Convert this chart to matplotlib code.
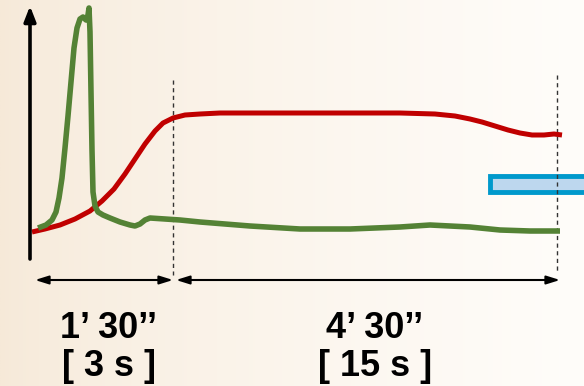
import numpy as np
import matplotlib
matplotlib.use("Agg")
import matplotlib.pyplot as plt
from matplotlib.patches import Rectangle

# time axis (arbitrary units, 0 = vertical axis) and signal levels
green_t = [8, 16, 22, 26, 29, 32, 35, 38, 41, 44, 47, 50, 53, 56, 58, 59, 60, 61, 62,
           63, 65, 68, 73, 80, 90, 100, 105, 110, 115, 120, 135, 150, 170, 220, 270, 320,
           370, 400, 440, 470, 500, 530]
green_y = [14, 17, 22, 30, 44, 64, 94, 126, 160, 194, 214, 223, 225, 222, 227, 234, 210,
           150, 92, 50, 36, 30, 27, 24, 20, 17, 16, 18, 22, 24, 23, 22, 20, 16, 13, 13,
           15, 17, 15, 12, 11, 11]

red_t = [2, 15, 30, 45, 60, 72, 84, 95, 105, 115, 125, 133, 143, 155, 170, 190, 230,
         300, 370, 405, 425, 440, 452, 465, 478, 490, 502, 514, 524, 532]
red_y = [10, 13, 17, 23, 31, 41, 53, 68, 83, 98, 111, 119, 124, 127, 128, 129, 129, 129,
         129, 128, 126, 123, 120, 116, 112, 109, 107, 107, 108, 107]

marks_t = [143, 527]          # dashed markers
phase_labels = ["1\u2019 30\u2019\u2019", "4\u2019 30\u2019\u2019"]
phase_secs = ["[ 3 s ]", "[ 15 s ]"]

fig = plt.figure(figsize=(5.84, 3.86), dpi=100)

# background gradient
bg = fig.add_axes([0, 0, 1, 1])
left = np.array([246, 233, 216]) / 255
right = np.array([255, 253, 250]) / 255
g = np.linspace(0, 1, 300) ** 0.7
img = left[None, None, :] * (1 - g)[None, :, None] + right[None, None, :] * g[None, :, None]
img = np.repeat(img, 2, axis=0)
bg.imshow(img, aspect="auto", extent=[0, 1, 0, 1])
bg.axis("off")

ax = fig.add_axes([0, 0, 1, 1])
ax.patch.set_alpha(0)
ax.set_xlim(-30, 554)
ax.set_ylim(-144, 242)
ax.axis("off")

# axes arrows
ax.annotate("", xy=(0, 236), xytext=(0, -17),
            arrowprops=dict(arrowstyle="-|>,head_width=0.35,head_length=0.9",
                            color="black", lw=2.6, shrinkA=0, shrinkB=0))
ax.annotate("", xy=(555, -1), xytext=(-15, -1),
            arrowprops=dict(arrowstyle="-|>,head_width=0.35,head_length=0.9",
                            color="black", lw=2.6, shrinkA=0, shrinkB=0))

# dashed markers
ax.plot([marks_t[0]] * 2, [162, -33], ls=(0, (3, 2.5)), color="#333333", lw=1)
ax.plot([marks_t[1]] * 2, [167, -30], ls=(0, (3, 2.5)), color="#333333", lw=1)

# blue bar
ax.add_patch(Rectangle((459.5, 50.5), 200, 16, facecolor="#BDD7EE",
                       edgecolor="#0099CC", lw=3.5, clip_on=True))

ax.plot(red_t, red_y, color="#C00000", lw=3.6, solid_joinstyle="round",
        solid_capstyle="butt")
ax.plot(green_t, green_y, color="#548235", lw=4.0, solid_joinstyle="round",
        solid_capstyle="butt")

# duration arrows
for a, b in [(5, 143), (146, 530)]:
    ax.annotate("", xy=(b, -38), xytext=(a, -38),
                arrowprops=dict(arrowstyle="<|-|>,head_width=0.25,head_length=0.8",
                                color="black", lw=1.5, shrinkA=0, shrinkB=0))

for x, l1, l2 in zip([79, 345], phase_labels, phase_secs):
    ax.text(x, -86, l1, ha="center", va="center", fontsize=26, fontweight="bold",
            family="Liberation Sans")
    ax.text(x, -125, l2, ha="center", va="center", fontsize=26, fontweight="bold",
            family="Liberation Sans")

fig.savefig("out.png", dpi=100)
